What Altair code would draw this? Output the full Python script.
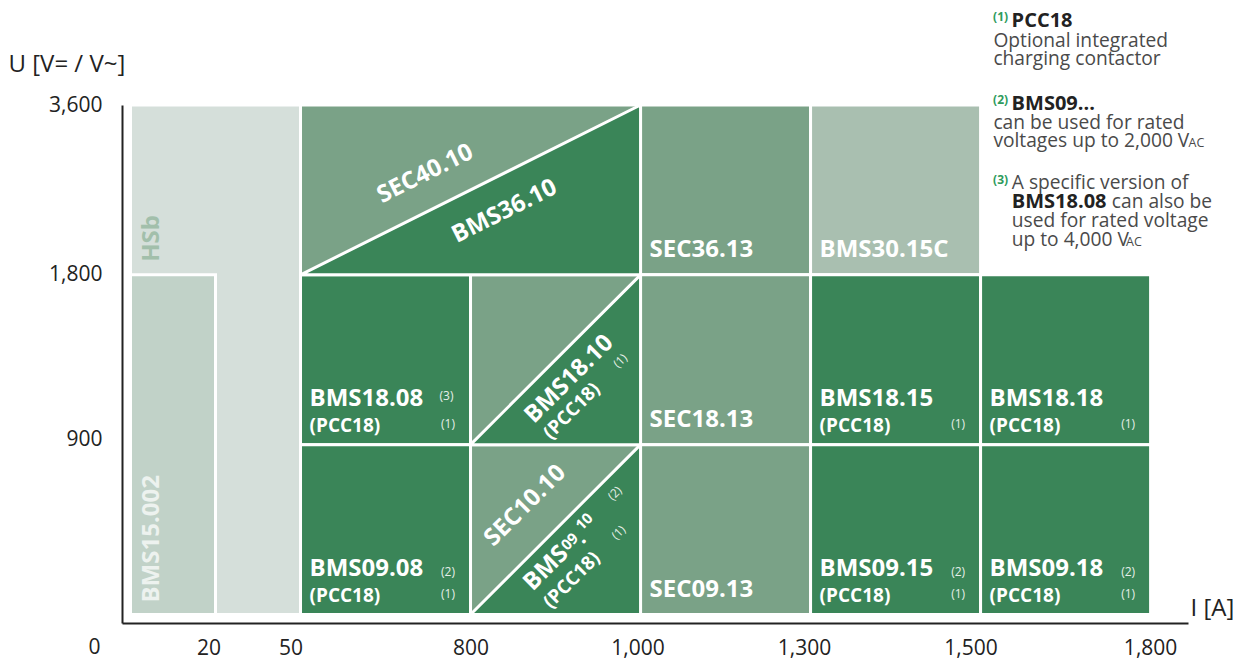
import math
import altair as alt
import pandas as pd

# ---------------- data ----------------
I_BREAKS = [0, 20, 50, 800, 1000, 1300, 1500, 1800]
I_SLOTS = [0, 0.5, 1, 2, 3, 4, 5, 6]
U_BREAKS = [0, 900, 1800, 3600]
U_SLOTS = [0, 1, 2, 3]
X_TICK_LABELS = ["20", "50", "800", "1,000", "1,300", "1,500", "1,800"]
Y_TICK_LABELS = ["900", "1,800", "3,600"]
ORIGIN_LABEL = "0"

cell_names = ["HSb", "BMS15.002", "SEC40.10", "SEC36.13", "BMS30.15C",
              "BMS18.08", "BMS18.10", "SEC18.13", "BMS18.15", "BMS18.18",
              "BMS09.08", "SEC10.10", "SEC09.13", "BMS09.15", "BMS09.18"]
cell_i_from = [0, 0, 50, 1000, 1300, 50, 800, 1000, 1300, 1500, 50, 800, 1000, 1300, 1500]
cell_i_to = [50, 20, 1000, 1300, 1500, 800, 1000, 1300, 1500, 1800, 800, 1000, 1300, 1500, 1800]
cell_u_from = [0, 0, 1800, 1800, 1800, 900, 900, 900, 900, 900, 0, 0, 0, 0, 0]
cell_u_to = [3600, 1800, 3600, 3600, 3600, 1800, 1800, 1800, 1800, 1800, 900, 900, 900, 900, 900]
cell_kind = ["hsb", "bms15", "mid", "mid", "bms30", "dark", "mid", "mid", "dark", "dark",
             "dark", "mid", "mid", "dark", "dark"]

# cells split by a diagonal (dark lower-right triangle)
split_lower_names = ["BMS36.10", "BMS18.10", "BMS09.10"]
split_upper_names = ["SEC40.10", "", "SEC10.10"]
split_i_from = [50, 800, 800]
split_i_to = [1000, 1000, 1000]
split_u_from = [1800, 900, 0]
split_u_to = [3600, 1800, 900]

# two-line labelled cells
two_line_cells = ["BMS18.08", "BMS18.15", "BMS18.18", "BMS09.08", "BMS09.15", "BMS09.18"]
two_line_sub = ["(PCC18)"] * 6
two_line_sup_top = ["(3)", "", "", "(2)", "(2)", "(2)"]
two_line_sup_bottom = ["(1)"] * 6
single_line_cells = ["SEC36.13", "BMS30.15C", "SEC18.13", "SEC09.13"]

note_texts = ["(1)", "PCC18", "Optional integrated", "charging contactor",
              "(2)", "BMS09...", "can be used for rated", "voltages up to 2,000 V", "AC",
              "(3)", "A specific version of", "BMS18.08", "can also be",
              "used for rated voltage", "up to 4,000 V", "AC"]

# ---------------- layout / style ----------------
FONT = "Open Sans"
W, H = 1066, 518
PAD = {"left": 114, "top": 97, "right": 45, "bottom": 36}
XDOM = [-0.05, 6.22]
YDOM = [-0.05, 3.0]
PX_X = W / (XDOM[1] - XDOM[0])
PX_Y = H / (YDOM[1] - YDOM[0])

DARK = "#3a8558"
MID = "#7aa287"
KIND_DOMAIN = ["hsb", "bms15", "mid", "dark", "bms30"]
KIND_COLORS = ["#d5dfda", "#c1d2c8", MID, DARK, "#a9bfb0"]
AX = "#222222"
GRAY = "#4a4a4a"
GREEN_NOTE = "#2e9b5c"
SUP = "#e6efe9"

ISLOT = dict(zip(I_BREAKS, I_SLOTS))
USLOT = dict(zip(U_BREAKS, U_SLOTS))

XS = alt.Scale(domain=XDOM, nice=False, zero=False)
YS = alt.Scale(domain=YDOM, nice=False, zero=False)


def X(f):
    return alt.X(f"{f}:Q", scale=XS, axis=None)


def Y(f):
    return alt.Y(f"{f}:Q", scale=YS, axis=None)


# axis tick values (small pixel nudges so labels sit as in the figure)
X_LABEL_NUDGE = [-7, -10, 0, -3, -6.5, -10, -0.5]
Y_LABEL_NUDGE = [5.5, 0, 0]
x_tick_vals = [round(s + n / PX_X, 4) for s, n in zip(I_SLOTS[1:], X_LABEL_NUDGE)]
y_tick_vals = [round(s + n / PX_Y, 4) for s, n in zip(U_SLOTS[1:], Y_LABEL_NUDGE)]


def label_expr(vals, labels):
    parts = [f"abs(datum.value - {v}) < 0.01 ? '{l}'" for v, l in zip(vals, labels)]
    return " : ".join(parts) + " : ''"


x_axis = alt.Axis(values=x_tick_vals, labelExpr=label_expr(x_tick_vals, X_TICK_LABELS),
                  title="I [A]", titleAngle=0, titleAlign="left", titleBaseline="alphabetic",
                  titleX=1068, titleY=-8, titleFont=FONT, titleFontSize=24,
                  titleFontWeight="normal", titleColor=AX,
                  labelFont=FONT, labelFontSize=21, labelColor=AX, labelPadding=14,
                  labelFlush=False, labelOverlap=False,
                  ticks=False, tickSize=0, grid=False, domainColor=AX, domainWidth=2)
y_axis = alt.Axis(values=y_tick_vals, labelExpr=label_expr(y_tick_vals, Y_TICK_LABELS),
                  title="U [V= / V~]", titleAngle=0, titleAlign="left", titleBaseline="alphabetic",
                  titleX=-114, titleY=-34, titleFont=FONT, titleFontSize=24,
                  titleFontWeight="normal", titleColor=AX,
                  labelFont=FONT, labelFontSize=21, labelColor=AX, labelPadding=20,
                  labelFlush=False, labelOverlap=False,
                  ticks=False, tickSize=0, grid=False, domainColor=AX, domainWidth=2)

# ---------------- cells ----------------
cells = pd.DataFrame({
    "name": cell_names,
    "x0": [ISLOT[v] for v in cell_i_from],
    "x1": [ISLOT[v] for v in cell_i_to],
    "y0": [USLOT[v] for v in cell_u_from],
    "y1": [USLOT[v] for v in cell_u_to],
    "kind": cell_kind,
})

rects = alt.Chart(cells).mark_rect(stroke="white", strokeWidth=3).encode(
    x=alt.X("x0:Q", scale=XS, axis=x_axis), x2=alt.X2("x1"),
    y=alt.Y("y0:Q", scale=YS, axis=y_axis), y2=alt.Y2("y1"),
    color=alt.Color("kind:N", scale=alt.Scale(domain=KIND_DOMAIN, range=KIND_COLORS), legend=None),
)

tri_rows = []
for k in range(len(split_lower_names)):
    x0, x1 = ISLOT[split_i_from[k]], ISLOT[split_i_to[k]]
    y0, y1 = USLOT[split_u_from[k]], USLOT[split_u_to[k]]
    tri_rows.append({"id": k, "x": x0, "yt": y0, "yb": y0})
    tri_rows.append({"id": k, "x": x1, "yt": y1, "yb": y0})
tri = alt.Chart(pd.DataFrame(tri_rows)).mark_area(
    fill=DARK, stroke="white", strokeWidth=3, strokeJoin="bevel").encode(
    x=X("x"), y=Y("yt"), y2=alt.Y2("yb"), detail="id:N")

layers = [rects, tri]

# ---------------- cell labels ----------------
def cell_lookup(names):
    idx = [cell_names.index(n) for n in names]
    return cells.iloc[idx].reset_index(drop=True)


two = cell_lookup(two_line_cells).copy()
two["main"] = two_line_cells
two["sub"] = two_line_sub
two["supt"] = two_line_sup_top
two["supb"] = two_line_sup_bottom


def txt(df, field, xf, yf, **kw):
    base = dict(font=FONT, color="white", baseline="middle")
    base.update(kw)
    return alt.Chart(df).mark_text(**base).encode(x=X(xf), y=Y(yf), text=f"{field}:N")


layers.append(txt(two, "main", "x0", "y0", align="left", dx=9, dy=-45.5, fontSize=24, fontWeight="bold"))
layers.append(txt(two, "sub", "x0", "y0", align="left", dx=9, dy=-18.2, fontSize=19, fontWeight="bold"))
layers.append(txt(two[two["supt"] == "(3)"], "supt", "x1", "y0", align="right", dx=-17, dy=-48.5,
                  fontSize=12, color=SUP))
layers.append(txt(two[two["supt"] == "(2)"], "supt", "x1", "y0", align="right", dx=-15.5, dy=-42.5,
                  fontSize=12, color=SUP))
layers.append(txt(two, "supb", "x1", "y0", align="right", dx=-15.5, dy=-20.5, fontSize=12, color=SUP))

single = cell_lookup(single_line_cells).copy()
single["main"] = single_line_cells
layers.append(txt(single, "main", "x0", "y0", align="left", dx=9, dy=-24.5, fontSize=24, fontWeight="bold"))

# vertical labels in the leftmost column
hsb = cell_lookup(["BMS15.002"]).copy()
hsb["t"] = ["HSb"]
hsb["ylab"] = [USLOT[1800]]
layers.append(alt.Chart(hsb).mark_text(font=FONT, align="left", baseline="middle", angle=270,
                                       dx=13, dy=21, fontSize=24, fontWeight="bold",
                                       color="#a2bfab").encode(x=X("x0"), y=Y("ylab"), text="t:N"))
b15 = cell_lookup(["BMS15.002"]).copy()
layers.append(alt.Chart(b15).mark_text(font=FONT, align="left", baseline="middle", angle=270,
                                       dx=12, dy=21, fontSize=24, fontWeight="bold",
                                       color="#edf2ef").encode(x=X("x0"), y=Y("y0"), text="name:N"))


# rotated labels in diagonal cells
def rot_text(k, text, dx, dy, size, weight="bold", baseline="middle", color="white"):
    x0, x1 = ISLOT[split_i_from[k]], ISLOT[split_i_to[k]]
    y0, y1 = USLOT[split_u_from[k]], USLOT[split_u_to[k]]
    ang = 360 - math.degrees(math.atan2((y1 - y0) * PX_Y, (x1 - x0) * PX_X))
    df = pd.DataFrame({"x": [(x0 + x1) / 2], "y": [(y0 + y1) / 2], "t": [text]})
    return alt.Chart(df).mark_text(font=FONT, align="center", baseline=baseline, angle=ang,
                                   dx=dx, dy=dy, fontSize=size, fontWeight=weight,
                                   color=color).encode(x=X("x"), y=Y("y"), text="t:N")


layers.append(rot_text(0, split_upper_names[0], -33.4, -34.5, 24))
layers.append(rot_text(0, split_lower_names[0], 20.7, 34.6, 24))
layers.append(rot_text(1, split_lower_names[1], -4, 23.5, 24))
layers.append(rot_text(1, "(PCC18)", -24.6, 47.7, 19))
layers.append(rot_text(1, "(1)", 45, 46.5, 12, weight="normal", color=SUP))
layers.append(rot_text(2, split_upper_names[2], -4.5, -38.3, 24))
bms0910 = split_lower_names[2]
layers.append(rot_text(2, bms0910[:3], -34, 20.9, 24))
layers.append(rot_text(2, bms0910[3:5], 1.5, 18.5, 15))
layers.append(rot_text(2, bms0910[5], 11.7, 30, 22, baseline="alphabetic"))
layers.append(rot_text(2, bms0910[6:], 26, 14.7, 15))
layers.append(rot_text(2, "(PCC18)", -24.1, 47.1, 19))
layers.append(rot_text(2, "(2)", 67.5, 16.2, 12, weight="normal", color=SUP))
layers.append(rot_text(2, "(1)", 42.5, 46.6, 12, weight="normal", color=SUP))

# origin label
origin = pd.DataFrame({"x": [I_SLOTS[0]], "y": [YDOM[0]], "t": [ORIGIN_LABEL]})
layers.append(alt.Chart(origin).mark_text(font=FONT, align="center", baseline="middle", dx=-36, dy=25,
                                          fontSize=21, color=AX).encode(x=X("x"), y=Y("y"), text="t:N"))

# ---------------- notes (top right) ----------------
NOTE_REG = 19.2
note_style = [  # dx, dy, size, weight, color
    (12.5, -83.7, 12, "bold", GREEN_NOTE),
    (31, -78.5, 20, "bold", AX),
    (12.8, -58.5, NOTE_REG, "normal", GRAY),
    (12.8, -40, NOTE_REG, "normal", GRAY),
    (12.5, -0.7, 12, "bold", GREEN_NOTE),
    (31, 4.8, 20, "bold", AX),
    (12.8, 23.5, NOTE_REG, "normal", GRAY),
    (12.8, 42.2, NOTE_REG, "normal", GRAY),
    (208, 42.2, 12.5, "normal", GRAY),
    (12.5, 79.3, 12, "bold", GREEN_NOTE),
    (31.2, 84.1, NOTE_REG, "normal", GRAY),
    (31.2, 103.1, 20, "bold", AX),
    (131.2, 103.1, NOTE_REG, "normal", GRAY),
    (31.2, 121.5, NOTE_REG, "normal", GRAY),
    (31.2, 140.5, NOTE_REG, "normal", GRAY),
    (145.5, 140.5, 12.5, "normal", GRAY),
]
for t, (dx, dy, size, weight, col) in zip(note_texts, note_style):
    df = pd.DataFrame({"x": [ISLOT[1500]], "y": [USLOT[3600]], "t": [t]})
    layers.append(alt.Chart(df).mark_text(font=FONT, align="left", baseline="alphabetic", dx=dx, dy=dy,
                                          fontSize=size, fontWeight=weight, color=col)
                  .encode(x=X("x"), y=Y("y"), text="t:N"))

chart = alt.layer(*layers).resolve_axis(x="independent", y="independent").properties(
    width=W, height=H, padding=PAD, autosize=alt.AutoSizeParams(type="none"),
    background="white",
).configure_view(stroke=None)

chart.save("out.html", embed_options={"renderer": "svg", "actions": False})
